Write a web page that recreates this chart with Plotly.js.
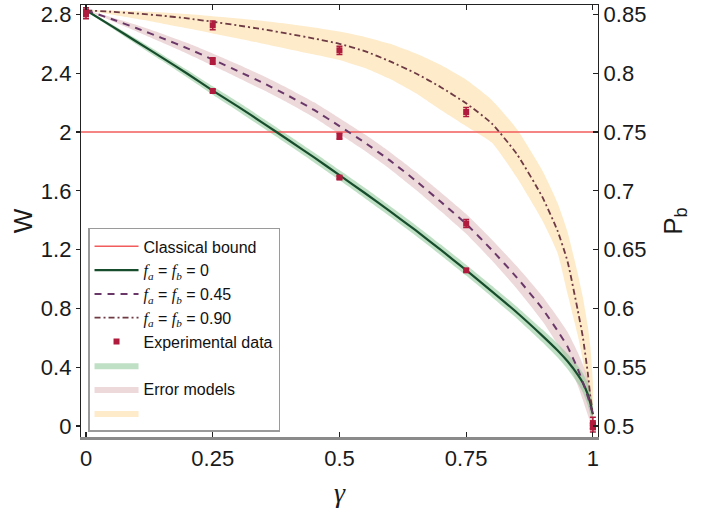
<!DOCTYPE html>
<html>
<head>
<meta charset="utf-8">
<script src="https://cdn.plot.ly/plotly-3.0.1.min.js"></script>
<style>
  html, body { margin: 0; padding: 0; background: #fff; }
  #chart { width: 724px; height: 508px; }
</style>
</head>
<body>
<div id="chart"></div>
<script>
// ---------- data ----------
const gamma = [0, 0.05, 0.1, 0.15, 0.2, 0.25, 0.3, 0.35, 0.4, 0.45, 0.5, 0.55, 0.6, 0.65, 0.7, 0.75, 0.8, 0.85, 0.9, 0.93, 0.95, 0.97, 0.98, 0.99, 0.995, 1.0];

const W_f0  = [2.828, 2.722, 2.614, 2.506, 2.396, 2.282, 2.173, 2.059, 1.944, 1.827, 1.707, 1.585, 1.460, 1.332, 1.198, 1.060, 0.918, 0.772, 0.615, 0.515, 0.440, 0.350, 0.295, 0.215, 0.155, 0.080];
const W_f45 = [2.828, 2.769, 2.706, 2.639, 2.569, 2.493, 2.414, 2.333, 2.245, 2.150, 2.040, 1.928, 1.805, 1.670, 1.525, 1.375, 1.200, 1.010, 0.800, 0.650, 0.540, 0.390, 0.300, 0.200, 0.140, 0.080];
const W_f90 = [2.828, 2.818, 2.806, 2.791, 2.773, 2.750, 2.725, 2.698, 2.668, 2.636, 2.600, 2.550, 2.480, 2.400, 2.305, 2.195, 2.060, 1.850, 1.560, 1.330, 1.120, 0.790, 0.610, 0.360, 0.200, 0.080];

// error-model bands
const greenSpread = [0.004, 0.012, 0.018, 0.022, 0.026, 0.029, 0.031, 0.032, 0.033, 0.034, 0.034, 0.035, 0.035, 0.036, 0.036, 0.037, 0.038, 0.040, 0.043, 0.047, 0.052, 0.060, 0.066, 0.075, 0.078, 0.060];
const pinkSpread  = [0.000, 0.012, 0.022, 0.030, 0.036, 0.041, 0.045, 0.048, 0.050, 0.052, 0.054, 0.056, 0.058, 0.061, 0.064, 0.067, 0.071, 0.076, 0.084, 0.092, 0.100, 0.112, 0.120, 0.125, 0.110, 0.060];
const orangeHi = [2.828, 2.826, 2.821, 2.813, 2.802, 2.787, 2.772, 2.755, 2.735, 2.711, 2.683, 2.647, 2.600, 2.535, 2.455, 2.355, 2.220, 2.020, 1.740, 1.520, 1.320, 1.040, 0.880, 0.680, 0.540, 0.300];
const orangeLo = [2.828, 2.800, 2.770, 2.738, 2.705, 2.670, 2.636, 2.600, 2.563, 2.527, 2.490, 2.435, 2.360, 2.265, 2.150, 2.040, 1.930, 1.690, 1.400, 1.180, 0.900, 0.620, 0.450, 0.230, 0.120, 0.050];

// experimental data
const expGamma = [0, 0, 0, 0.25, 0.25, 0.25, 0.5, 0.5, 0.5, 0.75, 0.75, 0.75, 1, 1, 1];
const expW     = [2.820, 2.810, 2.800, 2.279, 2.483, 2.726, 1.690, 1.971, 2.556, 1.059, 1.377, 2.136, 0.020, 0.000, -0.010];
const expErr   = [0.025, 0.020, 0.030, 0.010, 0.022, 0.030, 0.010, 0.020, 0.028, 0.010, 0.027, 0.030, 0.040, 0.020, 0.030];

const classicalBound = 2;

// axes
const gammaRange = [-0.0099, 1.0101];
const wRange = [-0.0748, 2.864];
const xTicks = [0, 0.25, 0.5, 0.75, 1];
const xTickText = ['0', '0.25', '0.5', '0.75', '1'];
const yTicks = [0, 0.4, 0.8, 1.2, 1.6, 2.0, 2.4, 2.8];
const yTickText = ['0', '0.4', '0.8', '1.2', '1.6', '2', '2.4', '2.8'];
const pbTicks = [0.5, 0.55, 0.6, 0.65, 0.7, 0.75, 0.8, 0.85];
const pbTickText = ['0.5', '0.55', '0.6', '0.65', '0.7', '0.75', '0.8', '0.85'];
// P_b = 0.5 + W / 8
const pbRange = wRange.map(w => 0.5 + w / 8);

// ---------- build ----------
function band(hi, lo) {
  return {
    x: gamma.concat(gamma.slice().reverse()),
    y: hi.concat(lo.slice().reverse())
  };
}
const gBand = band(W_f0.map((w, i) => w + greenSpread[i]), W_f0.map((w, i) => w - greenSpread[i]));
const pBand = band(W_f45.map((w, i) => w + pinkSpread[i]), W_f45.map((w, i) => w - pinkSpread[i]));
const oBand = band(orangeHi, orangeLo);

const SERIF = "'Liberation Serif', 'DejaVu Serif', serif";
const fSub = (s) => `<span style="font-family:${SERIF}"><i>f</i><sub><i>${s}</i></sub></span>`;

const traces = [
  { x: oBand.x, y: oBand.y, type: 'scatter', mode: 'lines', fill: 'toself',
    fillcolor: 'rgba(252,222,170,0.62)', line: { width: 0, color: 'rgba(0,0,0,0)', shape: 'spline', smoothing: 0.5 },
    name: ' ', legendrank: 8, hoverinfo: 'skip' },
  { x: pBand.x, y: pBand.y, type: 'scatter', mode: 'lines', fill: 'toself',
    fillcolor: 'rgba(214,168,174,0.45)', line: { width: 0, color: 'rgba(0,0,0,0)', shape: 'spline', smoothing: 0.5 },
    name: 'Error models', legendrank: 7, hoverinfo: 'skip' },
  { x: gBand.x, y: gBand.y, type: 'scatter', mode: 'lines', fill: 'toself',
    fillcolor: 'rgba(140,198,150,0.55)', line: { width: 0, color: 'rgba(0,0,0,0)', shape: 'spline', smoothing: 0.5 },
    name: '  ', legendrank: 6, hoverinfo: 'skip' },
  { x: gammaRange, y: gammaRange.map(() => classicalBound), type: 'scatter', mode: 'lines',
    line: { color: '#f25c5c', width: 1.5 }, name: 'Classical bound', legendrank: 1, hoverinfo: 'skip' },
  { x: gamma, y: W_f0, type: 'scatter', mode: 'lines', line: { color: '#174d2c', width: 2.2, shape: 'spline', smoothing: 0.5 },
    name: `${fSub('a')} = ${fSub('b')} = 0`, legendrank: 2, hoverinfo: 'skip' },
  { x: gamma, y: W_f45, type: 'scatter', mode: 'lines', line: { color: '#6a3868', width: 2, dash: '7px,6px', shape: 'spline', smoothing: 0.5 },
    name: `${fSub('a')} = ${fSub('b')} = 0.45`, legendrank: 3, hoverinfo: 'skip' },
  { x: gamma, y: W_f90, type: 'scatter', mode: 'lines', line: { color: '#6e3a44', width: 1.8, dash: '6px,3px,2px,3px', shape: 'spline', smoothing: 0.5 },
    name: `${fSub('a')} = ${fSub('b')} = 0.90`, legendrank: 4, hoverinfo: 'skip' },
  { x: expGamma, y: expW, type: 'scatter', mode: 'markers',
    marker: { symbol: 'square', size: 6, color: '#b01a3c' },
    error_y: { type: 'data', array: expErr, visible: true, color: '#b01a3c', thickness: 1.5, width: 3 },
    name: 'Experimental data', legendrank: 5, hoverinfo: 'skip', cliponaxis: false },
  { x: [], y: [], xaxis: 'x2', yaxis: 'y2', type: 'scatter', mode: 'markers', showlegend: false, hoverinfo: 'skip' }
];

const FONT = "'Liberation Sans', Arial, Helvetica, sans-serif";
const tickFont = { family: FONT, size: 22, color: '#1a1a1a' };

const layout = {
  width: 724, height: 508,
  margin: { l: 81, r: 126, t: 5, b: 71, pad: 0 },
  paper_bgcolor: '#fff', plot_bgcolor: '#fff',
  showlegend: true,
  hovermode: false,
  legend: {
    x: 0.0136, y: 0.484, xanchor: 'left', yanchor: 'top',
    bgcolor: '#fff', bordercolor: '#9a9a9a', borderwidth: 1.5,
    font: { family: FONT, size: 16, color: '#111' },
    tracegroupgap: 0, itemwidth: 44
  },
  xaxis: {
    range: gammaRange, tickvals: xTicks, ticktext: xTickText,
    ticks: 'inside', ticklen: 5, tickwidth: 1.2, tickcolor: '#222',
    showline: true, linecolor: '#8a8a8a', linewidth: 2.5,
    showgrid: false, zeroline: false, tickfont: tickFont, ticklabelstandoff: 0,
    title: { text: '<i>γ</i>', font: { family: SERIF, size: 28, color: '#1a1a1a' }, standoff: 15 }
  },
  xaxis2: {
    overlaying: 'x', matches: 'x', side: 'top', anchor: 'y',
    range: gammaRange, tickvals: xTicks, showticklabels: false,
    ticks: 'inside', ticklen: 5, tickwidth: 1.2, tickcolor: '#222',
    showline: true, linecolor: '#222', linewidth: 1.2, showgrid: false, zeroline: false
  },
  yaxis: {
    range: wRange, tickvals: yTicks, ticktext: yTickText,
    ticks: 'outside', ticklen: 4, tickwidth: 1.2, tickcolor: '#222',
    showline: true, linecolor: '#222', linewidth: 1.2,
    showgrid: false, zeroline: false, tickfont: tickFont,
    title: { text: 'W', font: { family: FONT, size: 26, color: '#1a1a1a' }, standoff: 0 }
  },
  yaxis2: {
    overlaying: 'y', side: 'right', anchor: 'x',
    range: pbRange, tickvals: pbTicks, ticktext: pbTickText,
    ticks: 'inside', ticklen: 5, tickwidth: 1.2, tickcolor: '#222',
    showline: true, linecolor: '#222', linewidth: 1.2,
    showgrid: false, zeroline: false, tickfont: tickFont,
    title: { text: 'P<sub>b</sub>', font: { family: FONT, size: 26, color: '#1a1a1a' }, standoff: 18 }
  }
};

Plotly.newPlot('chart', traces, layout, { staticPlot: true, displayModeBar: false });
</script>
</body>
</html>
